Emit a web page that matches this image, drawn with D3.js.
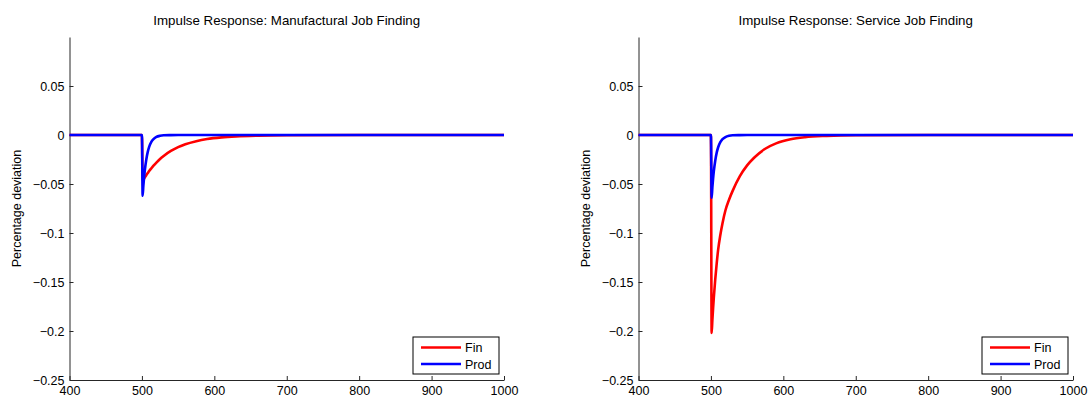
<!DOCTYPE html>
<html>
<head>
<meta charset="utf-8">
<script src="https://cdn.jsdelivr.net/npm/d3@7"></script>
<style>
  html, body { margin: 0; padding: 0; background: #fff; }
  svg { display: block; font-family: "Liberation Sans", Arial, Helvetica, sans-serif; }
</style>
</head>
<body>
<svg id="chart" width="1090" height="398"></svg>
<script>
// Simulation periods at which the responses are sampled
const periods = [400, 500, 501, 502, 503, 504, 506, 508, 510, 513, 516, 520, 525, 530, 540, 550, 560, 575, 590, 610, 630, 660, 700, 800, 1000];

// Manufacturing job finding rate: responses to a financial and a productivity shock
const mfgFin  = [0, 0, -0.047, -0.0457, -0.0445, -0.0433, -0.041, -0.0389, -0.0368, -0.034, -0.0313, -0.0281, -0.0245, -0.0214, -0.0163, -0.0124, -0.0094, -0.0063, -0.0041, -0.0024, -0.0014, -0.0006, -0.0002, 0, 0];
const mfgProd = [0, 0, -0.062, -0.0518, -0.0432, -0.0361, -0.0252, -0.0175, -0.0122, -0.0071, -0.0042, -0.002, -0.0008, -0.0003, -0.0001, 0, 0, 0, 0, 0, 0, 0, 0, 0, 0];

// Service job finding rate
const svcFin  = [0, 0, -0.202, -0.189, -0.177, -0.166, -0.147, -0.131, -0.117, -0.102, -0.09, -0.077, -0.066, -0.057, -0.042, -0.031, -0.023, -0.014, -0.0085, -0.0043, -0.0022, -0.0009, -0.0002, 0, 0];
const svcProd = [0, 0, -0.064, -0.0535, -0.0446, -0.0372, -0.026, -0.018, -0.0125, -0.0073, -0.0043, -0.0021, -0.0008, -0.0003, -0.0001, 0, 0, 0, 0, 0, 0, 0, 0, 0, 0];

const xTicks = [400, 500, 600, 700, 800, 900, 1000];
const yTicks = [0.05, 0, -0.05, -0.1, -0.15, -0.2, -0.25];
const xDomain = [400, 1000];
const yDomain = [-0.25, 0.1];

const seriesNames = ["Fin", "Prod"];
const seriesColors = ["#ff0000", "#0000ff"];

const panels = [
  { title: "Impulse Response: Manufactural Job Finding", series: [mfgFin, mfgProd], left: 69.5 },
  { title: "Impulse Response: Service Job Finding", series: [svcFin, svcProd], left: 638.5 }
];

const plotW = 434.5, plotTop = 37, plotBottom = 380;
const axisColor = "#262626";
const tickFont = 12.5;
const svg = d3.select("#chart");

const fmt = v => (v === 0 ? "0" : String(v).replace("-", "\u2212"));

panels.forEach(p => {
  const x = d3.scaleLinear().domain(xDomain).range([p.left, p.left + plotW]);
  const y = d3.scaleLinear().domain(yDomain).range([plotBottom, plotTop]);
  const g = svg.append("g");

  // x axis (ticks point into the plot)
  const xa = g.append("g").attr("transform", `translate(0,${plotBottom})`)
    .call(d3.axisBottom(x).tickValues(xTicks).tickSizeInner(-4).tickSizeOuter(0).tickPadding(6).tickFormat(d3.format("d")));
  xa.attr("font-family", null);
  xa.select(".domain").attr("stroke", axisColor);
  xa.selectAll(".tick line").attr("stroke", axisColor);
  xa.selectAll(".tick text").attr("font-size", tickFont).attr("fill", "#000");

  // y axis
  const ya = g.append("g").attr("transform", `translate(${p.left},0)`)
    .call(d3.axisLeft(y).tickValues(yTicks).tickSizeInner(-4).tickSizeOuter(0).tickPadding(5).tickFormat(fmt));
  ya.attr("font-family", null);
  ya.select(".domain").attr("stroke", axisColor);
  ya.selectAll(".tick line").attr("stroke", axisColor);
  ya.selectAll(".tick text").attr("font-size", tickFont).attr("fill", "#000");

  // title
  g.append("text")
    .attr("x", p.left + plotW / 2).attr("y", 25)
    .attr("text-anchor", "middle").attr("font-size", 13.3).attr("fill", "#000")
    .text(p.title);

  // y axis label
  g.append("text")
    .attr("transform", `translate(${p.left - 49},${(plotTop + plotBottom) / 2}) rotate(-90)`)
    .attr("text-anchor", "middle").attr("font-size", tickFont).attr("fill", "#000")
    .text("Percentage deviation");

  // response lines
  const line = d3.line()
    .x((d, i) => x(periods[i]))
    .y(d => y(d))
    .curve(d3.curveMonotoneX);

  p.series.forEach((vals, k) => {
    g.append("path")
      .datum(vals)
      .attr("fill", "none")
      .attr("stroke", seriesColors[k])
      .attr("stroke-width", 2.6)
      .attr("stroke-linejoin", "round")
      .attr("d", line);
  });

  // legend
  const lgW = 86, lgH = 37;
  const lgX = p.left + plotW - 5 - lgW, lgY = plotBottom - 6 - lgH;
  const lg = g.append("g").attr("transform", `translate(${lgX},${lgY})`);
  lg.append("rect").attr("width", lgW).attr("height", lgH)
    .attr("fill", "#fff").attr("stroke", "#000").attr("stroke-width", 1);
  seriesNames.forEach((name, k) => {
    const yy = 10.5 + k * 16.5;
    lg.append("line").attr("x1", 8).attr("x2", 48).attr("y1", yy).attr("y2", yy)
      .attr("stroke", seriesColors[k]).attr("stroke-width", 2.6);
    lg.append("text").attr("x", 52).attr("y", yy).attr("dy", "0.36em")
      .attr("font-size", tickFont).attr("fill", "#000").text(name);
  });
});
</script>
</body>
</html>
